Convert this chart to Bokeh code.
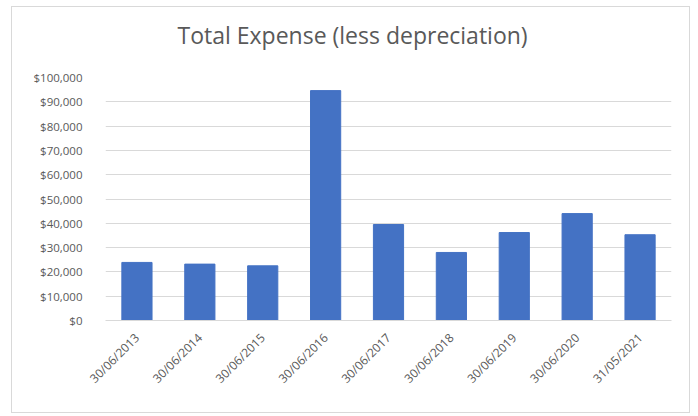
import math
from bokeh.plotting import figure
from bokeh.models import Range1d, FactorRange, NumeralTickFormatter, Title, ColumnDataSource
from bokeh.embed import file_html
from bokeh.resources import INLINE

dates = ["30/06/2013", "30/06/2014", "30/06/2015", "30/06/2016", "30/06/2017",
         "30/06/2018", "30/06/2019", "30/06/2020", "31/05/2021"]
expense = [23900, 23200, 22500, 94600, 39500, 28000, 36200, 44000, 35300]
y_ticks = list(range(0, 100001, 10000))
title_text = "Total Expense (less depreciation)"

FONT = "Open Sans"
GREY = "#595959"

src = ColumnDataSource(dict(x=dates, y=expense))

p = figure(width=679, height=407, x_range=FactorRange(*dates, range_padding=0),
           y_range=Range1d(0, 100000), output_backend="svg", toolbar_location=None,
           min_border_left=93, min_border_right=20, min_border_bottom=94, min_border_top=70)
p.styles = {"border": "1px solid #d9d9d9", "margin-left": "11px", "margin-top": "6px"}
p.outline_line_color = None

# spacer between plot frame and title (nearest the frame)
spacer = Title(text=" ", text_font=FONT, text_font_size="10px", standoff=2)
p.add_layout(spacer, "above")

t = Title(text=title_text, align="left", text_font=FONT,
          text_font_size="23px", text_font_style="normal", text_color=GREY, offset=72,
          standoff=18)
p.add_layout(t, "above")

p.vbar(x="x", top="y", width=0.48, source=src, fill_color="#4472C4", line_color="#4472C4")

p.yaxis.ticker = y_ticks
p.yaxis.formatter = NumeralTickFormatter(format="$0,0")
p.yaxis.axis_line_color = None
p.yaxis.major_tick_line_color = None
p.yaxis.minor_tick_line_color = None
p.yaxis.major_label_standoff = 17
p.yaxis.major_label_text_font = FONT
p.yaxis.major_label_text_font_size = "11.5px"
p.yaxis.major_label_text_color = GREY

p.xaxis.axis_line_color = "#d9d9d9"
p.xaxis.major_tick_line_color = None
p.xaxis.minor_tick_line_color = None
p.xaxis.major_label_orientation = math.pi / 4
p.xaxis.major_label_standoff = 9
p.xaxis.major_label_text_font = FONT
p.xaxis.major_label_text_font_size = "12px"
p.xaxis.major_label_text_color = GREY

p.xgrid.grid_line_color = None
p.ygrid.grid_line_color = "#d9d9d9"
p.ygrid.grid_line_width = 1

open("out.html", "w").write(file_html(p, INLINE))
